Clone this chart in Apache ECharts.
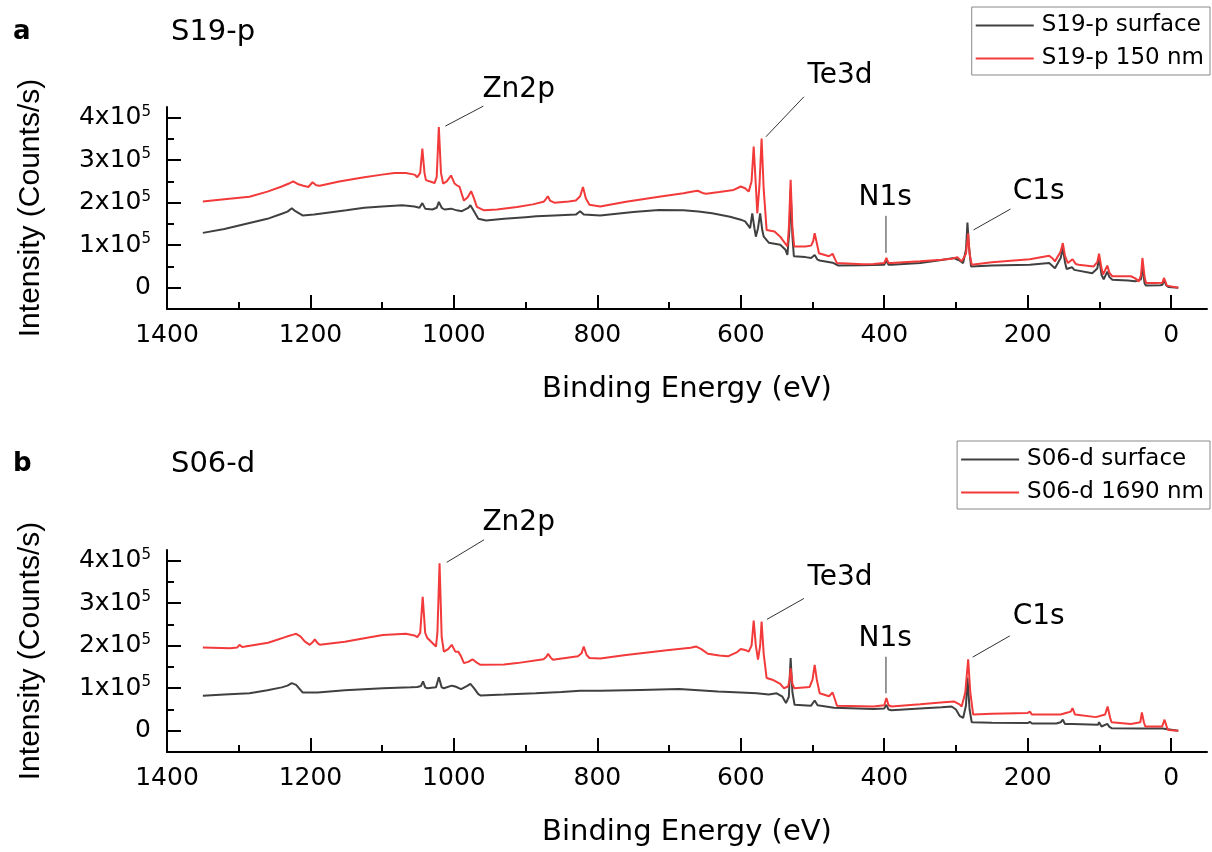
<!DOCTYPE html>
<html>
<head>
<meta charset="utf-8">
<script src="https://cdn.jsdelivr.net/npm/echarts@6/dist/echarts.min.js"></script>
<style>html,body{margin:0;padding:0;background:#fff}#c{width:1212px;height:852px}</style>
</head>
<body>
<div id="c"></div>
<script>
// Intensities in units of 1e5 counts/s, binding energy in eV
const xTickLabels = [0, 200, 400, 600, 800, 1000, 1200, 1400];
const xMinorTicks = [100, 300, 500, 700, 900, 1100, 1300];
const yTickLabels = [0, 1, 2, 3, 4];
const yMinorTicks = [0.5, 1.5, 2.5, 3.5];

const seriesNamesA = ['S19-p surface', 'S19-p 150 nm'];
const seriesNamesB = ['S06-d surface', 'S06-d 1690 nm'];

const a_surface = [[1350,1.29],[1320,1.38],[1285,1.52],[1260,1.62],[1240,1.74],[1232,1.79],[1226,1.87],[1221,1.80],[1211,1.70],[1195,1.72],[1179,1.76],[1150,1.82],[1125,1.88],[1100,1.91],[1072,1.94],[1055,1.91],[1048,1.88],[1044,1.99],[1040,1.86],[1030,1.84],[1024,1.88],[1021,2.02],[1017,1.88],[1013,1.84],[1004,1.86],[996,1.82],[989,1.80],[980,1.88],[977,1.94],[972,1.80],[966,1.62],[955,1.58],[930,1.62],[900,1.66],[885,1.68],[860,1.70],[830,1.72],[824,1.80],[819,1.72],[796,1.70],[750,1.78],[714,1.83],[680,1.82],[659,1.79],[640,1.75],[615,1.67],[600,1.60],[594,1.56],[589,1.45],[587,1.40],[584,1.75],[581,1.40],[579,1.20],[576,1.40],[573,1.75],[570,1.35],[568,1.20],[561,1.06],[545,1.01],[538,0.90],[535,0.77],[532,1.40],[530.5,2.30],[528,1.20],[526,0.74],[510,0.72],[502,0.70],[497,0.77],[493,0.66],[490,0.64],[472,0.59],[464,0.52],[430,0.53],[400,0.54],[397,0.64],[394,0.54],[390,0.54],[350,0.58],[320,0.65],[303,0.70],[295,0.64],[290,0.58],[286,0.90],[284,1.53],[282,1.00],[279,0.50],[250,0.52],[197,0.54],[170,0.58],[162,0.46],[154,0.70],[151,0.93],[148,0.60],[145.7,0.44],[138,0.48],[135,0.42],[110,0.34],[103,0.45],[100.5,0.70],[97,0.30],[94,0.20],[89,0.38],[86,0.25],[82,0.19],[60,0.17],[50,0.15],[42,0.20],[40,0.50],[37,0.10],[35,0.05],[15,0.06],[12,0.07],[10,0.19],[7,0.06],[4,0.02],[-10,0]];

const a_depth = [[1350,2.03],[1320,2.08],[1285,2.14],[1260,2.26],[1240,2.38],[1230,2.45],[1224,2.50],[1218,2.44],[1210,2.40],[1203,2.37],[1197,2.48],[1192,2.41],[1187,2.40],[1160,2.50],[1125,2.60],[1100,2.66],[1083,2.70],[1067,2.70],[1055,2.66],[1051,2.60],[1047,2.70],[1044,3.27],[1041,2.70],[1039,2.53],[1030,2.48],[1027,2.46],[1024,2.60],[1021,3.78],[1018,2.70],[1015,2.45],[1010,2.50],[1004,2.64],[999,2.45],[996,2.41],[992,2.37],[989,2.20],[986,2.05],[981,2.12],[976,2.27],[972,2.10],[968,1.90],[958,1.82],[940,1.84],[912,1.90],[890,1.96],[875,2.02],[872,2.08],[869,2.15],[866,2.05],[860,2.00],[840,2.03],[830,2.05],[824,2.15],[820,2.37],[816,2.10],[811,1.95],[796,1.91],[760,2.02],[714,2.14],[680,2.22],[665,2.27],[660,2.28],[652,2.22],[648,2.21],[630,2.25],[610,2.30],[600,2.38],[594,2.34],[589,2.26],[585,2.50],[582,3.32],[579,2.40],[577,1.75],[574,2.40],[571,3.51],[568,2.30],[564,1.36],[553,1.32],[545,1.20],[542,1.13],[535,0.97],[533,1.40],[530.5,2.54],[528,1.40],[525.5,0.97],[510,0.97],[502,0.99],[499,1.10],[497,1.28],[494,1.05],[491,0.81],[477,0.74],[472,0.80],[468,0.65],[466,0.58],[430,0.55],[415,0.56],[400,0.58],[397,0.70],[394,0.58],[390,0.58],[350,0.62],[320,0.66],[306,0.68],[298,0.72],[292,0.62],[290,0.58],[286,0.80],[283,1.28],[281,0.80],[278,0.54],[250,0.60],[197,0.67],[170,0.75],[166,0.70],[162,0.62],[154,0.85],[151,1.05],[148,0.75],[144,0.58],[137.5,0.67],[133,0.56],[129,0.54],[108,0.50],[103,0.60],[100.5,0.80],[97,0.45],[95,0.31],[89,0.52],[86,0.35],[82,0.27],[56,0.27],[50,0.22],[45,0.15],[42,0.30],[40,0.70],[37,0.25],[35,0.11],[23,0.11],[12,0.12],[10,0.23],[7,0.10],[6,0.05],[-10,0]];

const b_surface = [[1350,0.82],[1320,0.85],[1285,0.88],[1260,0.95],[1240,1.02],[1232,1.06],[1226,1.12],[1220,1.08],[1211,0.90],[1190,0.90],[1152,0.95],[1099,1.00],[1060,1.02],[1051,1.03],[1046,1.05],[1043,1.16],[1040,1.02],[1037,1.00],[1025,1.02],[1021,1.26],[1017,1.02],[1014,1.00],[1003,1.06],[998,1.04],[990,0.98],[982,1.05],[977,1.10],[972,1.00],[966,0.86],[963,0.83],[930,0.85],[886,0.88],[850,0.91],[824,0.94],[796,0.94],[740,0.96],[686,0.98],[632,0.92],[600,0.90],[578,0.88],[561,0.85],[550,0.88],[542,0.80],[537,0.65],[533,0.80],[530.5,1.71],[528,0.90],[525,0.61],[502,0.59],[497,0.71],[493,0.60],[491,0.57],[470,0.54],[415,0.51],[400,0.52],[397,0.61],[394,0.50],[390,0.48],[350,0.52],[320,0.55],[306,0.57],[300,0.50],[295,0.35],[290,0.30],[286,0.60],[284,1.25],[281,0.50],[278,0.20],[250,0.19],[200,0.18],[197,0.21],[194,0.17],[160,0.17],[154,0.20],[151,0.26],[148,0.16],[145.7,0.14],[137.5,0.16],[102,0.14],[100.5,0.20],[97,0.10],[89,0.16],[86,0.09],[83,0.06],[40,0.05],[12,0.05],[-10,0]];

const b_depth = [[1350,1.96],[1312,1.94],[1302,1.96],[1299,2.02],[1295,1.97],[1291,1.98],[1259,2.07],[1232,2.22],[1224,2.26],[1220,2.28],[1214,2.22],[1208,2.10],[1201,2.02],[1197,2.08],[1194,2.15],[1190,2.06],[1187,2.02],[1152,2.09],[1123,2.18],[1099,2.25],[1067,2.28],[1055,2.24],[1051,2.20],[1047,2.30],[1043.5,3.15],[1040,2.30],[1037,2.18],[1025,1.98],[1023,2.30],[1020,3.94],[1017,2.20],[1014,1.86],[1008,1.92],[1003,2.02],[998,1.86],[994,1.86],[990,1.75],[986,1.59],[980,1.62],[974,1.68],[968,1.60],[963,1.55],[930,1.56],[912,1.59],[875,1.68],[871,1.74],[868.6,1.81],[865,1.72],[862,1.67],[827,1.75],[822,1.82],[819,1.98],[815,1.78],[811,1.71],[796,1.70],[760,1.78],[703,1.89],[670,1.95],[662,1.98],[655,1.92],[646,1.81],[630,1.77],[618,1.75],[605,1.85],[600,1.92],[594,1.90],[589,1.86],[585,2.00],[582,2.59],[579,2.00],[576,1.67],[573,2.00],[571,2.57],[568,1.80],[564,1.24],[556,1.20],[545,1.10],[540,1.00],[534,1.04],[532,1.20],[530.5,1.47],[528,1.10],[525.5,1.00],[504,1.03],[500,1.20],[497,1.55],[494,1.20],[490,0.88],[477,0.81],[472,0.90],[468,0.70],[466,0.59],[415,0.57],[400,0.60],[397,0.77],[394,0.60],[390,0.57],[350,0.62],[317,0.67],[303,0.69],[295,0.62],[292,0.57],[287,0.90],[283,1.68],[280,0.90],[276,0.38],[250,0.40],[200,0.42],[197,0.45],[194,0.38],[154,0.38],[148,0.41],[140,0.45],[137.5,0.53],[134,0.38],[132,0.34],[105,0.32],[92,0.38],[88.6,0.57],[85,0.30],[83,0.20],[56,0.16],[43,0.20],[40.8,0.43],[38,0.20],[36,0.10],[12.5,0.10],[9.2,0.26],[6,0.08],[4,0.02],[-10,0]];

// peak annotations: label anchor and leader line ends, in data coordinates
const peakNames = ['Zn2p', 'Te3d', 'N1s', 'C1s'];
const annotA_text = [[909,4.65],[461,4.98],[398,2.11],[184,2.25]];
const annotA_lines = [[[1012,3.80],[959,4.27]],[[565,3.55],[512,4.49]],[[397.6,0.82],[397.6,1.69]],[[275.5,1.36],[224,1.85]]];
const annotB_text = [[909,4.89],[461,3.58],[398,2.16],[184,2.67]];
const annotB_lines = [[[1010,3.96],[958,4.49]],[[563.5,2.62],[512,3.11]],[[397.6,0.88],[397.6,1.74]],[[276.8,1.73],[225,2.23]]];

const FONT = '"DejaVu Sans", sans-serif';
const FONT_NAME = '"Liberation Sans", Arial, sans-serif';
const GRAY = '#404040', RED = '#f23a3a';
const grids = [{left:167, top:107, width:1040, height:202}, {left:167, top:550, width:1040, height:202}];

function xAxes(gi) {
  return [{
    gridIndex: gi, type: 'value', inverse: true, min: -50, max: 1400,
    name: 'Binding Energy (eV)', nameLocation: 'middle', nameGap: 66,
    nameTextStyle: {fontSize: 29, fontFamily: FONT, color: '#000'},
    axisLine: {show: true, onZero: false, lineStyle: {color: '#000', width: 2}},
    axisTick: {show: true, inside: true, length: 14, customValues: xTickLabels, lineStyle: {color: '#000', width: 2}},
    axisLabel: {show: true, customValues: xTickLabels, margin: 14, fontSize: 25, fontFamily: FONT, color: '#000',
      formatter: v => String(v)},
    splitLine: {show: false}
  }, {
    gridIndex: gi, type: 'value', inverse: true, min: -50, max: 1400, position: 'bottom',
    axisLine: {show: false, onZero: false},
    axisTick: {show: true, inside: true, length: 7, customValues: xMinorTicks, lineStyle: {color: '#000', width: 2}},
    axisLabel: {show: false}, splitLine: {show: false}
  }];
}
function yAxes(gi) {
  return [{
    gridIndex: gi, type: 'value', min: -0.5, max: 4.25,
    name: 'Intensity (Counts/s)', nameLocation: 'middle', nameGap: 121,
    nameTextStyle: {fontSize: 30, fontFamily: FONT_NAME, color: '#000'},
    axisLine: {show: true, onZero: false, lineStyle: {color: '#000', width: 2}},
    axisTick: {show: true, inside: true, length: 14, customValues: yTickLabels, lineStyle: {color: '#000', width: 2}},
    axisLabel: {
      show: true, customValues: yTickLabels, margin: 16, fontFamily: FONT, color: '#000',
      formatter: v => v === 0 ? '{n|0}' : '{n|' + v + 'x10}{s|5}',
      rich: {n: {fontSize: 25, fontFamily: FONT, color: '#000'}, s: {fontSize: 15, fontFamily: FONT, color: '#000', verticalAlign: 'top', padding: [0, 0, 12, 0]}}
    },
    splitLine: {show: false}
  }, {
    gridIndex: gi, type: 'value', min: -0.5, max: 4.25, position: 'left',
    axisLine: {show: false, onZero: false},
    axisTick: {show: true, inside: true, length: 7, customValues: yMinorTicks, lineStyle: {color: '#000', width: 2}},
    axisLabel: {show: false}, splitLine: {show: false}
  }];
}

function spectrum(name, data, color, xi, yi) {
  return {name, type: 'line', data, xAxisIndex: xi, yAxisIndex: yi, symbol: 'none', showSymbol: false,
    lineStyle: {color, width: 2}, itemStyle: {color}, clip: false, silent: true};
}
function annotations(texts, lines, xi, yi) {
  const out = [];
  lines.forEach(l => out.push({type: 'line', data: l, xAxisIndex: xi, yAxisIndex: yi, symbol: 'none',
    lineStyle: {color: '#333', width: 1}, clip: false, silent: true}));
  out.push({type: 'scatter', xAxisIndex: xi, yAxisIndex: yi, symbolSize: 1, clip: false, silent: true,
    itemStyle: {color: 'rgba(0,0,0,0)', opacity: 1},
    data: texts.map((p, i) => ({name: peakNames[i], value: p})),
    label: {show: true, position: [0, 0], align: 'center', verticalAlign: 'middle', formatter: '{b}',
      fontSize: 28, fontFamily: FONT, color: '#000', textBorderWidth: 0, opacity: 1}});
  return out;
}

const legendCommon = {orient: 'vertical', right: 2, icon: 'rect', itemWidth: 58, itemHeight: 2, itemGap: 10,
  padding: [7, 6, 5, 4], borderColor: '#888', borderWidth: 1,
  textStyle: {fontSize: 23, fontFamily: FONT, color: '#000', padding: [0, 0, 0, 3]}};

const chart = echarts.init(document.getElementById('c'), null, {renderer: 'canvas'});
chart.setOption({
  animation: false,
  backgroundColor: '#fff',
  textStyle: {fontFamily: FONT},
  title: [
    {text: 'a', left: 8, top: 14, textStyle: {fontSize: 26, fontWeight: 'bold', fontFamily: FONT, color: '#000'}},
    {text: 'S19-p', left: 166, top: 13, textStyle: {fontSize: 29, fontWeight: 'normal', fontFamily: FONT, color: '#000'}},
    {text: 'b', left: 8, top: 446, textStyle: {fontSize: 26, fontWeight: 'bold', fontFamily: FONT, color: '#000'}},
    {text: 'S06-d', left: 166, top: 445, textStyle: {fontSize: 29, fontWeight: 'normal', fontFamily: FONT, color: '#000'}}
  ],
  legend: [
    Object.assign({data: seriesNamesA, top: 7}, legendCommon),
    Object.assign({data: seriesNamesB, top: 441}, legendCommon)
  ],
  grid: grids,
  xAxis: [...xAxes(0), ...xAxes(1)],
  yAxis: [...yAxes(0), ...yAxes(1)],
  series: [
    spectrum(seriesNamesA[0], a_surface, GRAY, 0, 0),
    spectrum(seriesNamesA[1], a_depth, RED, 0, 0),
    spectrum(seriesNamesB[0], b_surface, GRAY, 2, 2),
    spectrum(seriesNamesB[1], b_depth, RED, 2, 2),
    ...annotations(annotA_text, annotA_lines, 0, 0),
    ...annotations(annotB_text, annotB_lines, 2, 2)
  ]
});
</script>
</body>
</html>
